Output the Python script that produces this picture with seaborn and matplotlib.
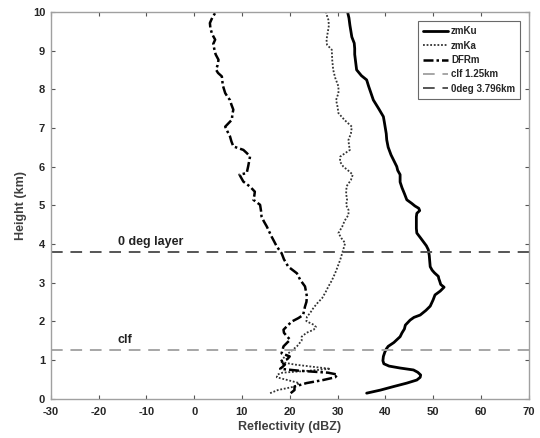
import numpy as np
import pandas as pd
import matplotlib
matplotlib.use("Agg")
import matplotlib.pyplot as plt
import seaborn as sns

# ---------------- data ----------------
h_ku = [0.14, 0.22, 0.31, 0.40, 0.48, 0.55, 0.61, 0.68, 0.74, 0.79, 0.84, 0.90, 0.98, 1.09, 1.20,
        1.28, 1.35, 1.45, 1.52, 1.60, 1.70, 1.80, 1.90, 2.03, 2.10, 2.16, 2.28, 2.39, 2.55, 2.68,
        2.78, 2.88, 2.95, 3.03, 3.10, 3.16, 3.25, 3.32, 3.41, 3.55, 3.70, 3.85, 3.95, 4.05, 4.15,
        4.28, 4.40, 4.55, 4.70, 4.79, 4.86, 4.92, 4.98, 5.05, 5.14, 5.30, 5.45, 5.60, 5.79, 5.90,
        6.00, 6.15, 6.30, 6.50, 6.69, 6.85, 7.00, 7.15, 7.29, 7.50, 7.72, 7.90, 8.08, 8.24, 8.35,
        8.50, 8.70, 8.90, 9.05, 9.19, 9.35, 9.50, 9.65, 9.84, 10.0]
zmKu = [36.1, 39.0, 41.7, 44.5, 46.6, 47.3, 47.4, 46.8, 45.9, 43.1, 40.8, 39.7, 39.5, 39.6, 39.9,
        40.2, 40.6, 41.8, 42.4, 43.1, 43.5, 44.0, 44.2, 45.2, 46.0, 47.3, 48.5, 49.4, 50.0, 50.4,
        51.5, 52.3, 51.6, 51.4, 51.2, 51.1, 50.3, 49.8, 49.4, 49.3, 49.2, 49.0, 48.6, 48.0, 47.4,
        46.6, 46.5, 46.5, 46.5, 46.6, 47.2, 47.0, 46.2, 45.5, 44.5, 44.0, 43.5, 43.1, 43.1, 42.6,
        42.4, 41.8, 41.2, 40.6, 40.3, 40.2, 40.0, 39.8, 39.6, 38.6, 37.5, 37.0, 36.5, 36.1, 35.0,
        34.0, 33.8, 33.6, 33.6, 33.5, 33.0, 32.8, 32.6, 32.4, 32.1]

h_ka = [0.14, 0.22, 0.31, 0.40, 0.48, 0.55, 0.62, 0.67, 0.72, 0.77, 0.82, 0.88, 0.95, 1.02, 1.09,
        1.20, 1.35, 1.50, 1.60, 1.70, 1.78, 1.85, 1.91, 2.00, 2.12, 2.20, 2.35, 2.47, 2.60, 2.75,
        2.90, 3.05, 3.24, 3.40, 3.60, 3.85, 4.02, 4.15, 4.28, 4.45, 4.60, 4.75, 4.88, 5.00, 5.14,
        5.30, 5.49, 5.65, 5.79, 5.90, 6.00, 6.13, 6.26, 6.43, 6.55, 6.69, 6.85, 7.03, 7.20, 7.38,
        7.55, 7.72, 7.90, 8.07, 8.30, 8.50, 8.75, 9.02, 9.15, 9.28, 9.50, 9.65, 9.79, 9.90, 10.0]
zmKa = [15.9, 17.5, 21.0, 22.0, 19.5, 17.3, 17.4, 18.5, 24.0, 28.5, 25.0, 21.0, 18.0, 18.5, 19.0,
        20.0, 21.5, 22.5, 22.5, 23.5, 25.0, 25.5, 25.0, 23.5, 23.6, 24.2, 25.0, 25.8, 26.8, 27.5,
        28.1, 28.8, 29.5, 30.0, 30.6, 31.2, 31.6, 30.8, 30.2, 31.0, 31.5, 32.3, 32.3, 31.8, 32.0,
        31.8, 31.9, 32.8, 33.2, 32.2, 31.2, 30.5, 30.6, 32.6, 32.4, 32.3, 32.8, 33.0, 31.5, 30.2,
        30.0, 29.7, 30.2, 30.2, 29.5, 29.1, 28.9, 28.8, 27.8, 27.7, 28.0, 28.2, 28.1, 27.8, 27.6]

h_dfr = [0.14, 0.22, 0.31, 0.40, 0.48, 0.55, 0.62, 0.67, 0.72, 0.77, 0.82, 0.88, 0.95, 1.02, 1.09,
         1.17, 1.26, 1.35, 1.45, 1.52, 1.60, 1.70, 1.78, 1.88, 1.99, 2.08, 2.16, 2.27, 2.38, 2.50,
         2.64, 2.77, 2.90, 3.07, 3.24, 3.41, 3.60, 3.76, 3.93, 4.05, 4.19, 4.32, 4.45, 4.58, 4.71,
         4.85, 5.01, 5.14, 5.25, 5.35, 5.48, 5.61, 5.72, 5.79, 5.83, 6.00, 6.13, 6.26, 6.35, 6.43,
         6.52, 6.65, 6.78, 6.90, 7.03, 7.12, 7.21, 7.35, 7.47, 7.60, 7.72, 7.80, 7.90, 8.10, 8.33,
         8.42, 8.50, 8.62, 8.76, 8.90, 9.05, 9.17, 9.28, 9.37, 9.45, 9.58, 9.71, 9.85, 9.97]
DFRm = [20.2, 21.0, 21.0, 23.5, 27.0, 29.5, 30.0, 28.0, 22.0, 18.0, 18.5, 19.0, 18.0, 19.5, 20.0,
        18.3, 18.5, 18.7, 19.5, 20.1, 19.5, 18.8, 18.7, 19.5, 20.4, 21.8, 22.8, 23.0, 23.2, 23.5,
        23.6, 23.4, 23.2, 22.2, 21.5, 19.7, 18.8, 18.3, 17.3, 16.8, 16.2, 15.7, 15.2, 14.6, 14.1,
        14.0, 13.8, 12.4, 12.6, 12.7, 11.7, 10.3, 9.8, 9.5, 11.0, 11.3, 11.5, 11.7, 11.0, 10.3,
        8.2, 7.8, 7.5, 7.0, 6.5, 7.2, 7.9, 8.0, 8.2, 7.8, 7.5, 7.0, 6.5, 6.0, 5.8,
        5.0, 4.6, 4.9, 5.1, 4.5, 4.2, 4.0, 4.4, 4.0, 3.7, 3.4, 3.3, 3.8, 4.4]

level_names = ["clf 1.25km", "0deg 3.796km"]
level_heights = [1.25, 3.796]
level_texts = ["clf", "0 deg layer"]

x_ticks = [-30, -20, -10, 0, 10, 20, 30, 40, 50, 60, 70]
y_ticks = [0, 1, 2, 3, 4, 5, 6, 7, 8, 9, 10]

# ---------------- plotting ----------------
sns.set_style("white")
plt.rcParams['font.family'] = ['Liberation Sans', 'DejaVu Sans']
plt.rcParams['font.weight'] = 'bold'

fig = plt.figure(figsize=(5.4, 4.38), dpi=100)
ax = fig.add_axes([0.094, 0.09, 0.885, 0.883])

df_ku = pd.DataFrame({"dBZ": zmKu, "h": h_ku})
df_ka = pd.DataFrame({"dBZ": zmKa, "h": h_ka})
df_dfr = pd.DataFrame({"dBZ": DFRm, "h": h_dfr})

sns.lineplot(data=df_ku, x="dBZ", y="h", sort=False, estimator=None, ax=ax,
             color="black", linewidth=2.0, label="zmKu")
sns.lineplot(data=df_ka, x="dBZ", y="h", sort=False, estimator=None, ax=ax,
             color="#333333", linewidth=1.3, linestyle=(0, (1, 1)), label="zmKa")
sns.lineplot(data=df_dfr, x="dBZ", y="h", sort=False, estimator=None, ax=ax,
             color="black", linewidth=1.8, linestyle=(0, (4, 1.2, 1, 1.2)), label="DFRm")

level_colors = ["#a6a6a6", "#555555"]
for name, hv, c in zip(level_names, level_heights, level_colors):
    ax.axhline(hv, color=c, linewidth=1.4, linestyle=(0, (6, 4)), label=name)

for txt, hv in zip(level_texts, level_heights):
    ax.text(-16.0, hv + 0.18, txt, fontsize=9, fontweight='bold', color='#222222')

ax.set_xlim(-30, 70)
ax.set_ylim(0, 10)
ax.set_xticks(x_ticks)
ax.set_yticks(y_ticks)
ax.set_xticklabels([str(v) for v in x_ticks])
ax.set_yticklabels([str(v) for v in y_ticks])
ax.tick_params(direction='in', length=3, width=0.8, color='#555555',
               labelsize=8, labelcolor='#262626', top=True, right=True,
               bottom=True, left=True)
ax.tick_params(axis='x', pad=6)
ax.tick_params(axis='y', pad=4)
for lab in ax.get_xticklabels() + ax.get_yticklabels():
    lab.set_fontweight('bold')
for s in ax.spines.values():
    s.set_color('#a0a0a0')
    s.set_linewidth(1.0)

ax.set_xlabel("Reflectivity (dBZ)", fontsize=9, fontweight='bold', color='#404040', labelpad=3)
ax.set_ylabel("Height (km)", fontsize=9, fontweight='bold', color='#404040', labelpad=4)

leg = ax.legend(loc='upper right', bbox_to_anchor=(0.982, 0.975), fontsize=7,
                frameon=True, fancybox=False, handlelength=2.6, handletextpad=0.3,
                labelspacing=0.45, borderpad=0.5, borderaxespad=0.0)
leg.get_frame().set_edgecolor('#444444')
leg.get_frame().set_linewidth(0.8)
for t in leg.get_texts():
    t.set_fontweight('bold')

fig.savefig("out.png", dpi=100)
